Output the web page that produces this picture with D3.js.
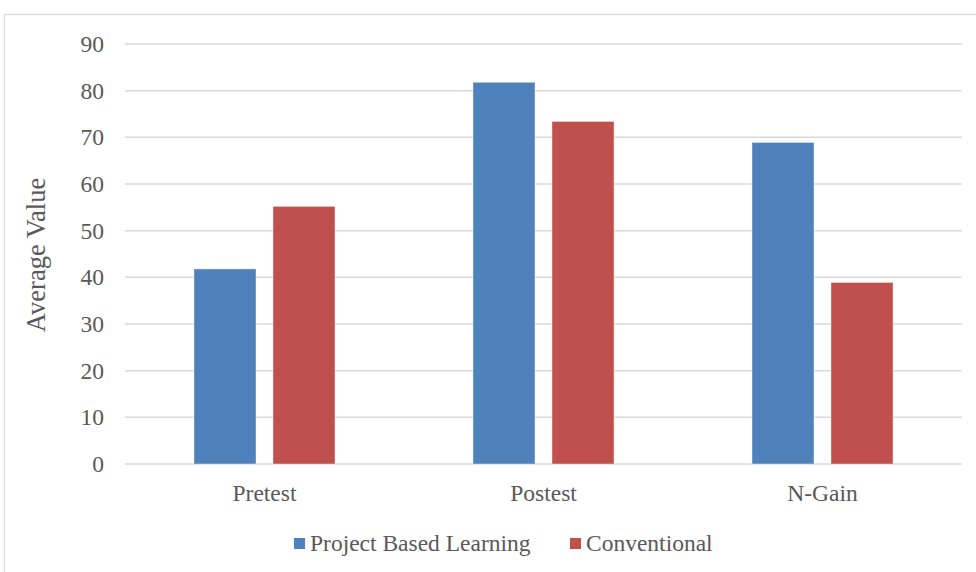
<!DOCTYPE html>
<html>
<head>
<meta charset="utf-8">
<script src="https://cdn.jsdelivr.net/npm/d3@7"></script>
<style>
  body { margin: 0; background: #fff; }
  svg text { font-family: "Times New Roman", Times, "Liberation Serif", "DejaVu Serif", serif !important; fill: #595959; }
</style>
</head>
<body>
<div id="chart"></div>
<script>
var categories = ["Pretest", "Postest", "N-Gain"];
var seriesNames = ["Project Based Learning", "Conventional"];
var pblValues = [41.8, 81.8, 68.9];
var convValues = [55.2, 73.4, 38.9];
var yTicks = [0, 10, 20, 30, 40, 50, 60, 70, 80, 90];
var colors = ["#4f81bd", "#c0504d"];

var width = 976, height = 572;
var margin = {top: 44, right: 14, bottom: 108, left: 125};
var plotW = 962 - margin.left, plotH = 464 - margin.top;
var fontSize = "23.5px";

var svg = d3.select("#chart").append("svg")
  .attr("width", width)
  .attr("height", height);

// chart border
svg.append("rect")
  .attr("x", 4.5).attr("y", 14.5)
  .attr("width", 990).attr("height", 600)
  .attr("fill", "none")
  .attr("stroke", "#d9d9d9")
  .attr("stroke-width", 1.2);

var g = svg.append("g")
  .attr("transform", "translate(" + margin.left + "," + margin.top + ")");

var x0 = d3.scaleBand().domain(categories).range([0, plotW]).padding(0);
var x1 = d3.scaleBand().domain(seriesNames).range([0, x0.bandwidth()])
  .paddingInner(0.215).paddingOuter(0.873);
var y = d3.scaleLinear().domain([0, 90]).range([plotH, 0]);

// gridlines
g.selectAll(".grid")
  .data(yTicks)
  .enter().append("line")
    .attr("class", "grid")
    .attr("x1", 0).attr("x2", plotW)
    .attr("y1", d => y(d)).attr("y2", d => y(d))
    .attr("stroke", "#d9d9d9")
    .attr("stroke-width", 1.5);

// y axis labels
var yAxis = d3.axisLeft(y).tickValues(yTicks).tickSize(0).tickPadding(21);
var yg = g.append("g").call(yAxis);
yg.select(".domain").remove();
yg.selectAll("text").style("font-size", fontSize);

// x axis labels
var xAxis = d3.axisBottom(x0).tickSize(0).tickPadding(20);
var xg = g.append("g").attr("transform", "translate(0," + plotH + ")").call(xAxis);
xg.select(".domain").remove();
xg.selectAll("text").style("font-size", fontSize);

// bars
var rows = categories.map(function (c, i) {
  return {cat: c, vals: [pblValues[i], convValues[i]]};
});
var groups = g.selectAll(".grp")
  .data(rows)
  .enter().append("g")
    .attr("transform", d => "translate(" + x0(d.cat) + ",0)");
groups.selectAll("rect")
  .data(d => d.vals.map(function (v, j) { return {name: seriesNames[j], value: v, color: colors[j]}; }))
  .enter().append("rect")
    .attr("x", d => x1(d.name))
    .attr("y", d => y(d.value))
    .attr("width", x1.bandwidth())
    .attr("height", d => plotH - y(d.value))
    .attr("fill", d => d.color)
    .attr("stroke", "#ffffff")
    .attr("stroke-opacity", 0.4)
    .attr("stroke-width", 1);

// y axis title
svg.append("text")
  .attr("transform", "translate(36,255) rotate(-90)")
  .attr("text-anchor", "middle")
  .attr("dy", "0.35em")
  .style("font-size", "26.5px")
  .text("Average Value");

// legend
var legendX = [294, 570];
var lg = svg.selectAll(".leg")
  .data(seriesNames)
  .enter().append("g")
    .attr("transform", (d, i) => "translate(" + legendX[i] + ",538)");
lg.append("rect")
  .attr("width", 11).attr("height", 11)
  .attr("fill", (d, i) => colors[i]);
lg.append("text")
  .attr("x", 16).attr("y", 13)
  .style("font-size", fontSize)
  .text(d => d);
</script>
</body>
</html>
